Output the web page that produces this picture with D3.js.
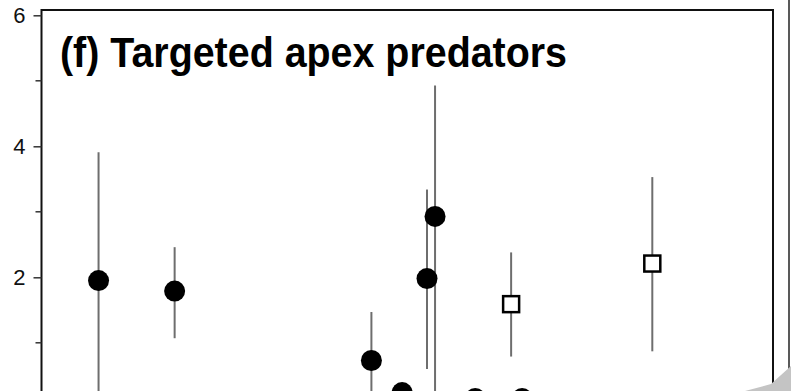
<!DOCTYPE html>
<html lang="en">
<head>
  <meta charset="UTF-8">
  <title>Targeted apex predators</title>
  <script src="https://d3js.org/d3.v7.min.js"></script>
  <style>
    body { margin: 0; background: #fff; }
    svg { display: block; }
  </style>
</head>
<body>
  <script>
    // x position (arbitrary units, 0-100 across the panel), estimate, lower, upper
    const circleX   = [7.8, 18.2, 45.1, 49.3, 52.7, 53.8, 59.3, 65.7];
    const circleY   = [1.95, 1.79, 0.73, 0.24, 1.98, 2.93, 0.15, 0.15];
    const circleLo  = [0.0, 1.07, 0.0, 0.0, 0.60, 0.0, 0.15, 0.15];
    const circleHi  = [3.91, 2.46, 1.47, 0.24, 3.34, 4.93, 0.15, 0.15];

    const squareX   = [64.2, 83.5];
    const squareY   = [1.59, 2.21];
    const squareLo  = [0.79, 0.87];
    const squareHi  = [2.38, 3.53];

    const majorTicks = [2, 4, 6];
    const minorTicks = [1, 3, 5];
    const title = "(f) Targeted apex predators";

    const width = 791, height = 391;
    const plotLeft = 41.5, plotRight = 773, plotTop = 10;

    const svg = d3.select("body")
      .append("svg")
      .attr("width", width)
      .attr("height", height);

    const x = d3.scaleLinear().domain([0, 100]).range([plotLeft, plotRight]);
    const y = d3.scaleLinear().domain([0, 6]).range([408.3, 15.3]);

    // frame (bottom is cut off)
    svg.append("path")
      .attr("d", `M${plotLeft},${height} V${plotTop} H${plotRight} V383`)
      .attr("fill", "none")
      .attr("stroke", "#111")
      .attr("stroke-width", 2);

    // neighbouring panel edge on the far right
    svg.append("line")
      .attr("x1", 789).attr("x2", 789)
      .attr("y1", 0).attr("y2", 370)
      .attr("stroke", "#222")
      .attr("stroke-width", 1.5);

    // y axis ticks
    const yAxis = d3.axisLeft(y)
      .tickValues(majorTicks)
      .tickFormat(d3.format("d"))
      .tickSize(8)
      .tickPadding(8);

    const gy = svg.append("g")
      .attr("transform", `translate(${plotLeft},0)`)
      .call(yAxis);
    gy.select(".domain").remove();
    gy.selectAll("line").attr("stroke", "#333").attr("stroke-width", 1.5);
    gy.selectAll("text")
      .attr("font-family", "Liberation Sans, Arial, sans-serif")
      .attr("font-size", 22)
      .attr("fill", "#111");

    svg.append("g")
      .selectAll("line")
      .data(minorTicks)
      .join("line")
      .attr("x1", plotLeft - 6).attr("x2", plotLeft)
      .attr("y1", d => y(d)).attr("y2", d => y(d))
      .attr("stroke", "#333")
      .attr("stroke-width", 1.5);

    // error bars
    const circles = circleX.map((v, i) => ({ x: v, y: circleY[i], lo: circleLo[i], hi: circleHi[i] }));
    const squares = squareX.map((v, i) => ({ x: v, y: squareY[i], lo: squareLo[i], hi: squareHi[i] }));

    svg.append("g")
      .selectAll("line")
      .data(circles.concat(squares))
      .join("line")
      .attr("x1", d => x(d.x)).attr("x2", d => x(d.x))
      .attr("y1", d => y(d.hi)).attr("y2", d => y(d.lo))
      .attr("stroke", "#6e6e6e")
      .attr("stroke-width", 2);

    svg.append("g")
      .selectAll("circle")
      .data(circles)
      .join("circle")
      .attr("cx", d => x(d.x))
      .attr("cy", d => y(d.y))
      .attr("r", 10.5)
      .attr("fill", "#000");

    svg.append("g")
      .selectAll("rect")
      .data(squares)
      .join("rect")
      .attr("x", d => x(d.x) - 8)
      .attr("y", d => y(d.y) - 8)
      .attr("width", 16)
      .attr("height", 16)
      .attr("fill", "#fff")
      .attr("stroke", "#000")
      .attr("stroke-width", 2.5);

    svg.append("text")
      .attr("x", 60)
      .attr("y", 67)
      .attr("font-family", "Liberation Sans, Arial, sans-serif")
      .attr("font-weight", "bold")
      .attr("font-size", 43)
      .attr("textLength", 507)
      .attr("lengthAdjust", "spacingAndGlyphs")
      .attr("fill", "#000")
      .text(title);

    // grey corner grip from the screenshot
    svg.append("polygon")
      .attr("points", "745,391 771,384 791,366 791,391")
      .attr("fill", "#c4c4c4");
  </script>
</body>
</html>
